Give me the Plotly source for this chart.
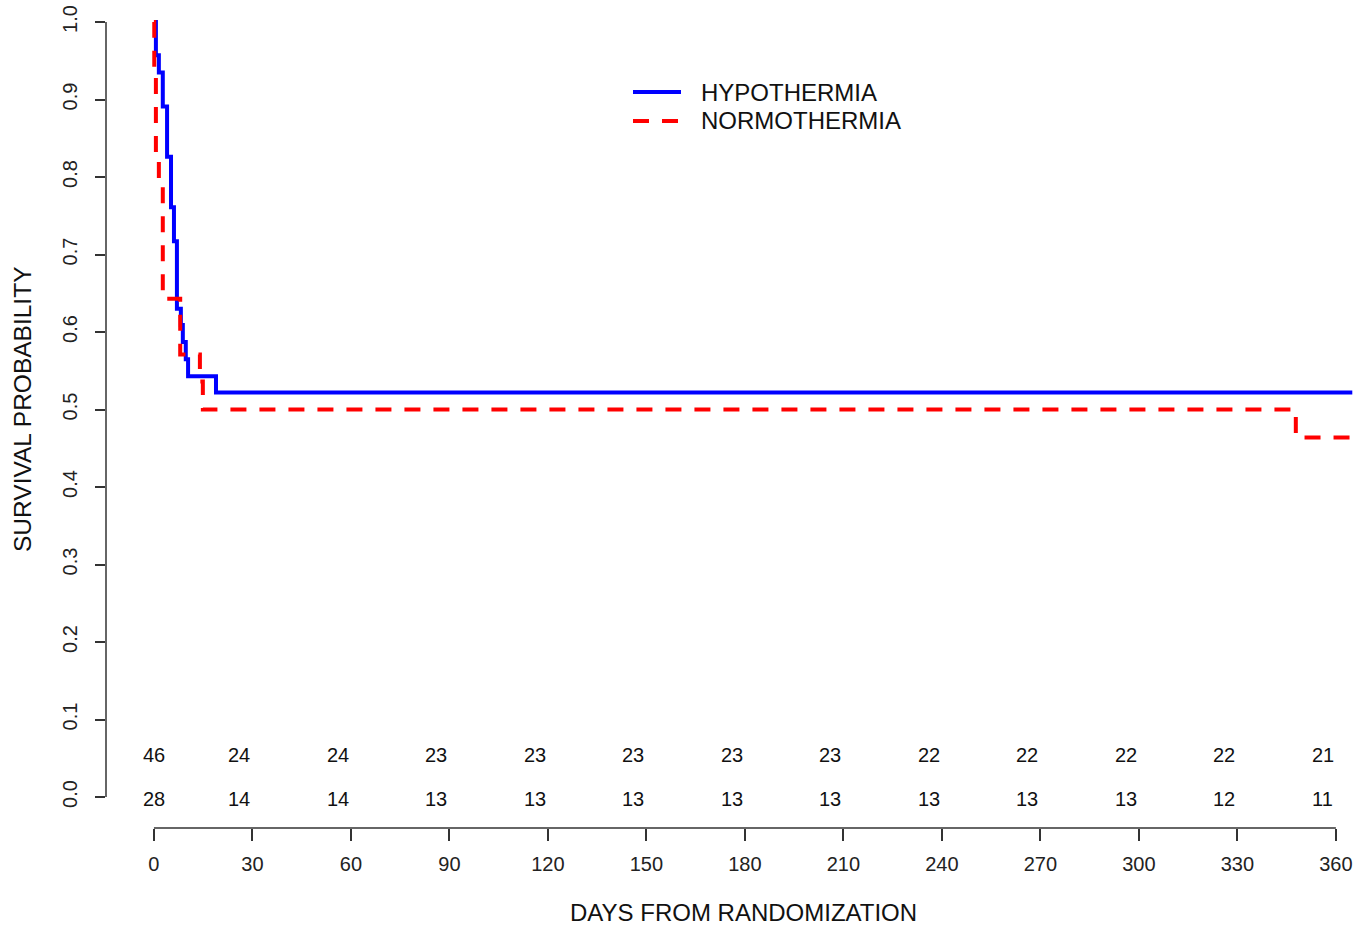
import plotly.graph_objects as go

# ---- data ----
hypo_days = [0, 0.6, 1.5, 2.7, 4.0, 5.2, 6.1, 7.0, 8.2, 8.8, 9.7, 10.4, 18.9, 365]
hypo_surv = [1.0, 0.957, 0.935, 0.891, 0.826, 0.761, 0.717, 0.630, 0.609, 0.587, 0.565, 0.543, 0.522, 0.522]

normo_days = [0, 0.1, 0.6, 1.5, 2.7, 8.0, 14.0, 14.9, 347.8, 365]
normo_surv = [1.0, 0.94, 0.83, 0.79, 0.643, 0.571, 0.536, 0.500, 0.464, 0.464]

risk_x = [0, 26, 56, 86, 116, 146, 176, 206, 236, 266, 296, 326, 356]
risk_hypo = [46, 24, 24, 23, 23, 23, 23, 23, 22, 22, 22, 22, 21]
risk_normo = [28, 14, 14, 13, 13, 13, 13, 13, 13, 13, 13, 12, 11]

x_ticks = [0, 30, 60, 90, 120, 150, 180, 210, 240, 270, 300, 330, 360]
y_ticks = [0.0, 0.1, 0.2, 0.3, 0.4, 0.5, 0.6, 0.7, 0.8, 0.9, 1.0]

series_names = ["HYPOTHERMIA", "NORMOTHERMIA"]
series_colors = ["#0000FF", "#FF0000"]
series_dash = ["solid", "16px,13px"]

FONT = "Liberation Sans, Arial, sans-serif"
AX = "#333333"

# page body margin is removed below; plot area spans screen x 106..1371, y 0..828
W, H = 1371, 929
ML, MB = 106, 101
PW, PH = W - ML, H - MB


def px(sx):
    return (sx - 106) / PW


def py(sy):
    return (828 - sy) / PH


fig = go.Figure()
fig.add_trace(go.Scatter(x=hypo_days, y=hypo_surv, mode="lines", line_shape="hv",
                         name=series_names[0], showlegend=False,
                         line=dict(color=series_colors[0], width=4, dash=series_dash[0])))
fig.add_trace(go.Scatter(x=normo_days, y=normo_surv, mode="lines", line_shape="hv",
                         name=series_names[1], showlegend=False,
                         line=dict(color=series_colors[1], width=4, dash=series_dash[1])))

# number at risk
for xv, a, b in zip(risk_x, risk_hypo, risk_normo):
    fig.add_annotation(x=xv, y=0.054, text=str(a), showarrow=False,
                       font=dict(size=20, color="#111", family=FONT), xanchor="center", yanchor="middle")
    fig.add_annotation(x=xv, y=-0.003, text=str(b), showarrow=False,
                       font=dict(size=20, color="#111", family=FONT), xanchor="center", yanchor="middle")

# R-style axis lines spanning only the tick range
fig.add_shape(type="line", xref="x", yref="paper", x0=0, x1=360, y0=0, y1=0,
              line=dict(color=AX, width=1.5))
fig.add_shape(type="line", xref="paper", yref="y", x0=0, x1=0, y0=0, y1=1,
              line=dict(color=AX, width=1.5))

# legend (R-style, drawn in the plot)
for i, (nm, col, ds) in enumerate(zip(series_names, series_colors, series_dash)):
    sy = 92 + 29 * i
    fig.add_shape(type="line", xref="paper", yref="paper", x0=px(633), x1=px(681), y0=py(sy), y1=py(sy),
                  line=dict(color=col, width=4, dash=ds))
    fig.add_annotation(xref="paper", yref="paper", x=px(699), y=py(sy), text=nm, showarrow=False,
                       font=dict(size=24, color="#111", family=FONT), xanchor="left", yanchor="middle")

# axis titles
fig.add_annotation(xref="paper", yref="paper", x=px(743), y=py(912),
                   text="DAYS FROM RANDOMIZATION", showarrow=False,
                   font=dict(size=24, color="#111", family=FONT), xanchor="center", yanchor="middle")
fig.add_annotation(xref="paper", yref="paper", x=px(22), y=py(410),
                   text="SURVIVAL PROBABILITY", showarrow=False, textangle=-90,
                   font=dict(size=24.5, color="#111", family=FONT), xanchor="center", yanchor="middle")

fig.update_xaxes(range=[-14.6, 370.7], tickvals=x_ticks, ticktext=[str(v) for v in x_ticks],
                 ticks="outside", ticklen=12, tickwidth=1.5, tickcolor=AX,
                 showgrid=False, zeroline=False, showline=False,
                 tickfont=dict(size=20, color="#222", family=FONT), ticklabelstandoff=6)
fig.update_yaxes(range=[-0.04, 797 / 775], tickvals=y_ticks, ticktext=[f"{v:.1f}" for v in y_ticks],
                 ticks="outside", ticklen=10, tickwidth=1.5, tickcolor=AX, tickangle=-90,
                 showgrid=False, zeroline=False, showline=False, ticklabeloverflow="allow",
                 tickfont=dict(size=20, color="#222", family=FONT), ticklabelstandoff=10)

fig.update_layout(
    width=W, height=H,
    margin=dict(l=ML, r=0, t=0, b=MB, autoexpand=False),
    plot_bgcolor="white", paper_bgcolor="white",
    showlegend=False,
)

fig.write_html("out.html", config={"displayModeBar": False},
               post_script="document.body.style.margin='0';document.body.style.overflow='hidden';")
